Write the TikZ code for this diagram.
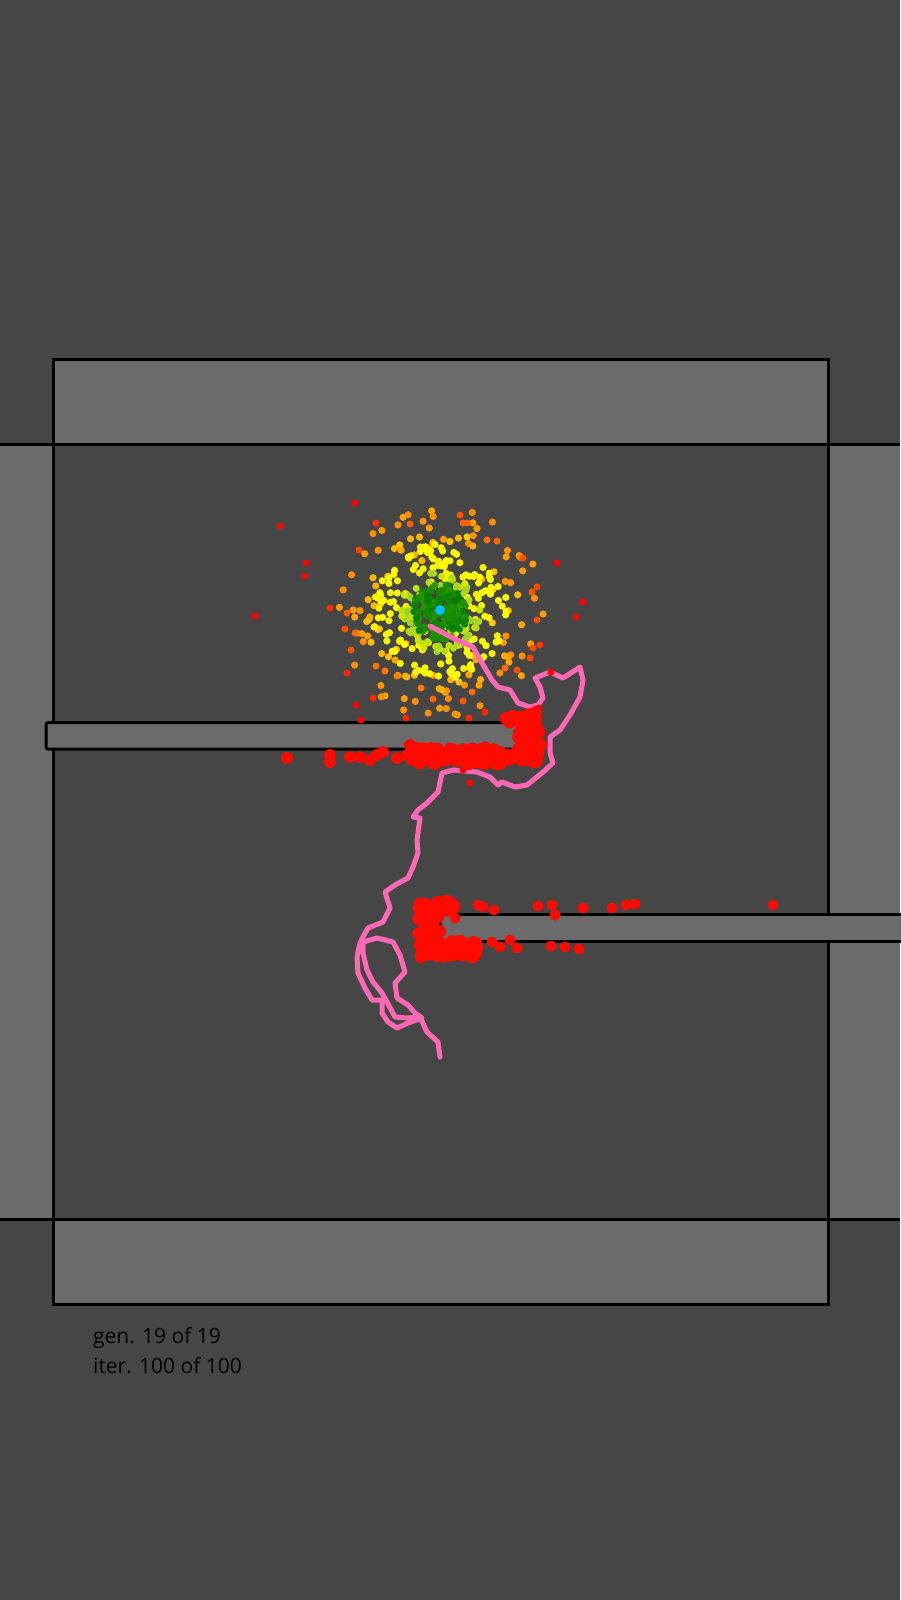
\documentclass[tikz,border=0pt]{standalone}
\usepackage{fontspec}
\setmainfont{Open Sans}
\definecolor{bg}{HTML}{464646}
\definecolor{wall}{HTML}{6B6B6B}
\definecolor{pinkpath}{HTML}{FF69B4}
\definecolor{hitred}{HTML}{FF0A00}
\definecolor{orangeR}{HTML}{FF4800}
\definecolor{dorange}{HTML}{FF8C00}
\definecolor{lorange}{HTML}{FFA500}
\definecolor{goldc}{HTML}{FFD000}
\definecolor{yel}{HTML}{FFFF00}
\definecolor{yel2}{HTML}{F2F000}
\definecolor{ygreen}{HTML}{9ACD32}
\definecolor{ygreen2}{HTML}{D2EA00}
\definecolor{grn}{HTML}{008000}
\definecolor{grn2}{HTML}{2E9600}
\definecolor{cyanc}{HTML}{00BFFF}
\newcommand\mycloud[6]{%
 \foreach \k in {1,...,#1}{%
  \pgfmathsetmacro\ang{360*rnd}%
  \pgfmathsetmacro\rad{#2+(#3-#2)*sqrt(rnd)}%
  \pgfmathtruncatemacro\mix{100*rnd}%
  \fill[#4!\mix!#5] ({440+\rad*cos(\ang)},{612+\rad*sin(\ang)}) circle (#6);
 }}
\newcommand\myblob[5]{%
 \foreach \k in {1,...,#1}{%
  \pgfmathsetmacro\bx{#2+(#4-#2)*rnd}%
  \pgfmathsetmacro\by{#3+(#5-#3)*rnd}%
  \fill[hitred] (\bx,\by) circle (6.5pt);
 }}
\tikzset{
  wallbox/.style={fill=wall, draw=black, line width=3pt},
  wallline/.style={draw=black, line width=3pt},
  trail/.style={draw=pinkpath, line width=5pt, line join=round, line cap=round},
  hud/.style={anchor=base west, font=\fontsize{21}{30}\selectfont, text=black, inner sep=0pt}
}
\begin{document}
\begin{tikzpicture}[x=1pt,y=-1pt]
\useasboundingbox (0,0) rectangle (900,1600);
\fill[bg] (0,0) rectangle (900,1600);
% walls
\fill[wall] (53,359) rectangle (828,444);
\fill[wall] (53,1219) rectangle (828,1304);
\fill[wall] (0,444) rectangle (53,1219);
\fill[wall] (828,444) rectangle (900,1219);
\draw[wallline] (53,359) rectangle (828,1304);
\draw[wallline] (0,444) -- (900,444);
\draw[wallline] (0,1219) -- (900,1219);
% bars
\draw[wallbox, rounded corners=2pt] (46,722.7) rectangle (518,749);
\draw[wallbox] (440,914) rectangle (910,941);
% particle cloud
\pgfmathsetseed{4711}
\mycloud{70}{60}{105}{dorange}{lorange}{3.6pt}
\mycloud{50}{45}{80}{lorange}{goldc}{3.6pt}
\mycloud{150}{22}{68}{yel}{yel2}{3.6pt}
\mycloud{90}{14}{40}{ygreen}{ygreen2}{3.6pt}
\mycloud{140}{0}{28}{grn}{grn2}{3.6pt}
% trail
\coordinate (start) at (430,626);
\coordinate (finish) at (440,1057);
\draw[trail] (start) -- (453,638) -- (473,647) -- (482,663) -- (492,680) -- (498,687) -- (510,690) -- (518,703) -- (530,707) -- (538,705) -- (543,698) -- (540,687) -- (535,678) -- (550,672) -- (563,678) -- (580,667) -- (583,680) -- (580,697) -- (570,715) -- (560,730) -- (550,737) -- (550,753) -- (553,763) -- (542,773) -- (527,785) -- (515,787) -- (502,782) -- (498,785) -- (490,777) -- (477,772) -- (453,770) -- (442,773) -- (438,792) -- (427,803) -- (418,810) -- (413,817) -- (420,818) -- (417,840) -- (418,853) -- (413,867) -- (408,878) -- (395,885) -- (385,892) -- (390,908) -- (383,922) -- (368,928) -- (363,937) -- (360,943) -- (357,957) -- (358,973) -- (365,988) -- (372,1000) -- (382,1000) -- (382,1013) -- (388,1022) -- (397,1028) -- (408,1023) -- (422,1018) -- (415,1013) -- (408,1005) -- (397,998) -- (395,983) -- (405,972) -- (400,955) -- (393,942) -- (377,938) -- (363,942) -- (363,953) -- (367,970) -- (373,982) -- (382,993) -- (387,1002) -- (395,1017) -- (407,1018) -- (420,1017) -- (427,1032) -- (438,1042) -- (finish);
% outer particles
\foreach \px/\py in {355/503,280/526,306/563,305/576,255/616,330/608,460/515,463/523,467/523,376/523,410/524,557/563,583/602,576/617,359/550,347/673,356/705,373/698,361/720,406/718,469/718,485/712,472/692,463/701,433/699,421/688,539/708,551/672,530/658,345/629,347/613,355/633,351/650,376/666,385/671,397/676,523/558,497/541,487/540,537/587,532/592,537/620,540/645,533/648,517/670,505/668,463/770,470/783,538/732}{
  \pgfmathsetmacro\dd{veclen(\px-440,\py-610)}
  \pgfmathtruncatemacro\ma{max(0,min(100,(\dd-75)*4))}
  \pgfmathtruncatemacro\mb{max(0,min(100,(\dd-100)*4))}
  \colorlet{tmpc}{orangeR!\ma!dorange}
  \fill[red!\mb!tmpc] (\px,\py) circle (3.5pt);
}
\fill[cyanc] (440,610) circle (5pt);
% collided particles, first obstacle
\myblob{22}{505}{714}{536}{724}
\myblob{25}{518}{722}{540}{750}
\myblob{110}{415}{748}{538}{764}
\foreach \px/\py in {287/758,330/755,330/762,350/757,360/757,370/760,377/755,383/752,397/758,407/755,410/745,412/760,541/745,536/712}{
  \fill[hitred] (\px,\py) circle (6pt);
}
% collided particles, second obstacle
\myblob{25}{418}{900}{455}{913}
\myblob{25}{418}{912}{440}{945}
\myblob{45}{418}{941}{478}{957}
\foreach \px/\py in {478/905,483/907,494/910,538/906,552/905,555/915,583/908,612/908,626/905,635/904,773/905,478/948,492/942,500/947,510/940,517/948,551/946,565/947,579/949,455/918}{
  \fill[hitred] (\px,\py) circle (5.5pt);
}
% text
\node[hud] (gen) at (93,1343) {gen. 19 of 19};
\node[hud] (iter) at (93,1373) {iter. 100 of 100};
\end{tikzpicture}
\end{document}
